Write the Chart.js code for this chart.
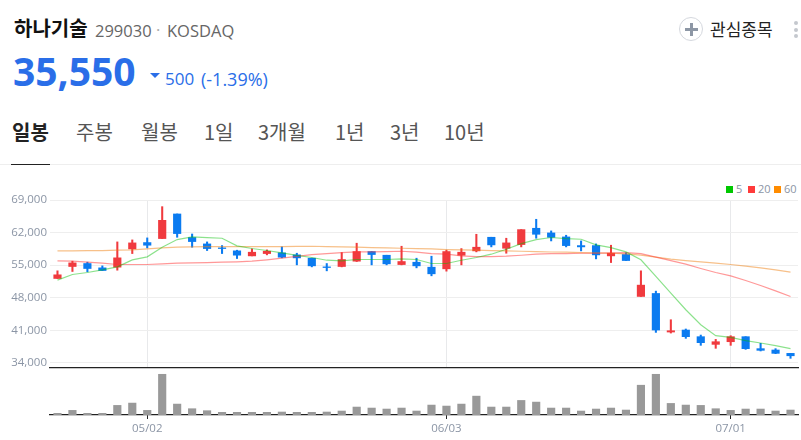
<!DOCTYPE html>
<html lang="ko">
<head>
<meta charset="utf-8">
<title>하나기술</title>
<script src="https://cdn.jsdelivr.net/npm/chart.js@4"></script>
<style>
  html, body { margin: 0; padding: 0; background: #fff; }
  body { width: 801px; height: 440px; position: relative; overflow: hidden; font-family: "Noto Sans CJK KR", "Open Sans", sans-serif; }
  .t { position: absolute; white-space: nowrap; line-height: 1; }
  canvas { position: absolute; left: 0; }
  .lg { position: absolute; top: 183px; font: 11px "Open Sans", sans-serif; color: #8b95a5; line-height: 11px; }
  .lg i { display: inline-block; width: 7px; height: 7px; margin-right: 3px; }
</style>
</head>
<body>
  <div class="t" style="left:14px;top:18px;font-size:20px;font-weight:700;color:#111">하나기술</div>
  <div class="t" style="left:95px;top:19px;font:16.5px 'Open Sans';color:#666">299030</div>
  <div class="t" style="left:156px;top:18px;font:16.5px 'Open Sans';color:#aaa">·</div>
  <div class="t" style="left:167px;top:19px;font:16.5px 'Open Sans';color:#666">KOSDAQ</div>
  <div class="t" style="left:13px;top:44px;font:700 39px 'Open Sans';color:#2a6ee8">35,550</div>
  <div class="t" style="left:150px;top:73px;width:0;height:0;border-left:5px solid transparent;border-right:5px solid transparent;border-top:5px solid #2a6ee8"></div>
  <div class="t" style="left:165px;top:67px;font:17px 'Open Sans';color:#2a6ee8">500</div>
  <div class="t" style="left:201px;top:67px;font:18px 'Open Sans';color:#2a6ee8">(-1.39%)</div>

  <div class="t" style="left:679px;top:17px;width:22px;height:22px;border:1.5px solid #d5d8de;border-radius:50%"></div>
  <div class="t" style="left:685px;top:28px;width:13px;height:3px;background:#8d97a5"></div>
  <div class="t" style="left:690px;top:23px;width:3px;height:13px;background:#8d97a5"></div>
  <div class="t" style="left:710px;top:20px;font-size:17px;color:#222">관심종목</div>
  <div class="t" style="left:794px;top:21px;width:4px;height:4px;border-radius:50%;background:#c4c8ce"></div>
  <div class="t" style="left:794px;top:28px;width:4px;height:4px;border-radius:50%;background:#c4c8ce"></div>
  <div class="t" style="left:794px;top:34px;width:4px;height:4px;border-radius:50%;background:#c4c8ce"></div>

  <div class="t" style="left:12px;top:122px;font-size:20px;font-weight:700;color:#222">일봉</div>
  <div class="t" style="left:76px;top:122px;font-size:20px;color:#555">주봉</div>
  <div class="t" style="left:141px;top:122px;font-size:20px;color:#555">월봉</div>
  <div class="t" style="left:204px;top:122px;font-size:20px;color:#555">1일</div>
  <div class="t" style="left:258px;top:122px;font-size:20px;color:#555">3개월</div>
  <div class="t" style="left:335px;top:122px;font-size:20px;color:#555">1년</div>
  <div class="t" style="left:390px;top:122px;font-size:20px;color:#555">3년</div>
  <div class="t" style="left:444px;top:122px;font-size:20px;color:#555">10년</div>
  <div class="t" style="left:0;top:164px;width:801px;height:1px;background:#eee"></div>
  <div class="t" style="left:11px;top:164px;width:39px;height:1px;background:#222"></div>

  <div class="lg" style="left:726px"><i style="background:#00c800"></i>5</div>
  <div class="lg" style="left:748px"><i style="background:#ff3b3b"></i>20</div>
  <div class="lg" style="left:774px"><i style="background:#ff8c00"></i>60</div>

  <canvas id="priceChart" width="801" height="180" style="top:190px;width:801px;height:180px"></canvas>
  <canvas id="volChart" width="801" height="71" style="top:369px;width:801px;height:71px"></canvas>

<script>
var dates = ["04/23","04/24","04/25","04/26","04/29","04/30","05/02","05/03","05/07","05/08",
  "05/09","05/10","05/13","05/14","05/16","05/17","05/20","05/21","05/22","05/23",
  "05/24","05/27","05/28","05/29","05/30","05/31","06/03","06/04","06/05","06/07",
  "06/10","06/11","06/12","06/13","06/14","06/17","06/18","06/19","06/20","06/21",
  "06/24","06/25","06/26","06/27","06/28","07/01","07/02","07/03","07/04","07/05"];
var dateTicks = ["05/02","06/03","07/01"];
var priceTicks = [34000,41000,48000,55000,62000,69000];

var opens = [52150,54720,55360,54430,54580,58500,59860,60720,66000,60930,
  59570,58720,58080,57000,57500,57650,57220,56500,54640,54720,
  55860,57930,57140,55140,55640,54570,54220,57140,58070,61000,
  58640,59430,62930,61930,61070,59210,59210,57000,57290,48290,
  48930,40650,41080,39650,38000,38570,39650,37080,36790,36070];
var closes = [52935,55500,54290,53860,56580,59790,59290,64640,61790,60075,
  58570,58580,57150,57790,58000,56720,56570,54860,54500,56220,
  57930,57290,55290,55790,54860,53150,57930,57790,58860,59360,
  59790,62640,61640,61000,59210,58930,57210,57570,56000,50720,
  41080,40930,39650,38360,38570,39650,37080,36720,36070,35550];
var highs = [53790,55860,55650,54860,60000,60430,60860,67570,66000,61700,
  60000,59220,58220,58500,58290,58930,57570,56500,55360,57720,
  59720,57930,57140,59070,56500,56930,58220,58570,61640,61000,
  60790,62640,64860,62360,61430,60210,59570,59290,57650,53790,
  49430,43290,41300,40000,39070,39860,39650,38220,37080,36070];
var lows = [52150,53650,53580,53860,53930,57500,58720,60720,61000,58860,
  58150,57500,56430,57000,57220,56580,55070,54640,53790,54640,
  55790,55070,55070,55070,54430,52720,53720,55070,57860,58930,
  57570,58930,60790,60210,58930,58070,56360,55570,56000,48290,
  40570,40430,39290,37790,37150,37790,36930,36580,36000,35000];

var ma5 = [51790,53000,53430,54000,54650,56150,56790,58860,60500,61070,
  60930,60790,59150,58580,58150,57650,57100,56650,56070,55930,
  56220,56220,56220,56360,56220,55360,55360,56070,56650,57360,
  58430,59640,60500,60950,60720,60570,59360,58790,57860,56150,
  52580,49000,45440,42220,39870,39510,38800,38300,37730,37080];
var ma20 = [55930,55860,55650,55430,55150,55150,55150,55290,55430,55500,
  55570,55650,55720,55860,56150,56500,56900,57290,57500,57720,
  57860,57860,57930,58000,57790,57500,57360,57000,56860,56860,
  56930,57140,57360,57500,57500,57570,57570,57650,57720,57500,
  56720,56000,55220,54290,53430,52720,51720,50650,49500,48290];
var ma60 = [58070,58070,58150,58150,58220,58290,58500,58720,58860,58930,
  59000,59000,59000,59000,59000,59000,59050,59070,59000,58930,
  58860,58790,58720,58640,58570,58500,58360,58290,58220,58140,
  58070,58000,57900,57830,57790,57720,57650,57570,57430,57150,
  56720,56290,56000,55720,55430,55150,54790,54430,54000,53500];

// volume in thousands of shares
var volumes = [5,14,5,5,29,36,14,123,33,19,
  13,8,8,8,8,9,8,8,9,12,
  24,21,18,21,12,30,27,33,57,24,
  24,44,39,21,21,12,18,21,15,90,
  123,35,30,29,19,14,18,18,12,15];

var upColor = "#f03a3e";
var downColor = "#0b7bf0";
var candleColors = opens.map(function (o, i) { return closes[i] >= o ? upColor : downColor; });
var bodies = opens.map(function (o, i) { return [o, closes[i]]; });
var wicks = lows.map(function (l, i) { return [l, highs[i]]; });

var axisFont = { family: "'Open Sans', sans-serif", size: 11.5 };
var axisColor = "#8b95a5";

function isDateTick(i) {
  return dateTicks.indexOf(dates[i]) !== -1;
}

new Chart("priceChart", {
  data: {
    labels: dates,
    datasets: [
      { type: "line", data: ma5, borderColor: "rgba(0,190,0,0.45)", borderWidth: 1.2, pointRadius: 0, order: 1 },
      { type: "line", data: ma20, borderColor: "rgba(255,50,50,0.5)", borderWidth: 1.2, pointRadius: 0, order: 1 },
      { type: "line", data: ma60, borderColor: "rgba(240,130,20,0.5)", borderWidth: 1.2, pointRadius: 0, order: 1 },
      { type: "bar", data: bodies, backgroundColor: candleColors, barThickness: 7.5, grouped: false, order: 2 },
      { type: "bar", data: wicks, backgroundColor: candleColors, barThickness: 1.4, grouped: false, order: 3 }
    ]
  },
  options: {
    animation: false,
    responsive: false,
    layout: { padding: { top: 10, right: 3, left: 0, bottom: 0 } },
    plugins: { legend: { display: false }, tooltip: { enabled: false } },
    scales: {
      x: {
        offset: true,
        afterFit: function (s) { s.height = 2; },
        ticks: { display: false, autoSkip: false },
        border: { color: "#222", width: 1.3 },
        grid: {
          offset: false,
          drawTicks: false,
          color: function (ctx) { return isDateTick(ctx.index) ? "#e8e9eb" : "transparent"; }
        }
      },
      y: {
        min: 32926,
        max: 69000,
        afterFit: function (s) { s.width = 50; s.paddingTop = 0; s.paddingBottom = 0; },
        afterBuildTicks: function (s) { s.ticks = priceTicks.map(function (v) { return { value: v }; }); },
        border: { display: false },
        grid: { color: "#eeeeee", drawTicks: false },
        ticks: {
          font: axisFont,
          color: axisColor,
          padding: 3,
          callback: function (v) { return v.toLocaleString("en-US"); }
        }
      }
    }
  }
});

new Chart("volChart", {
  type: "bar",
  data: {
    labels: dates,
    datasets: [{ data: volumes, backgroundColor: "#999999", barThickness: 7.5 }]
  },
  options: {
    animation: false,
    responsive: false,
    layout: { padding: { top: 0, right: 3, left: 50, bottom: 0 } },
    plugins: { legend: { display: false }, tooltip: { enabled: false } },
    scales: {
      x: {
        offset: true,
        afterFit: function (s) { s.height = 25; },
        border: { color: "#222", width: 1.3 },
        grid: {
          offset: false,
          drawOnChartArea: false,
          tickLength: 4,
          tickColor: function (ctx) { return isDateTick(ctx.index) ? "#222" : "transparent"; }
        },
        ticks: {
          font: axisFont,
          color: axisColor,
          autoSkip: false,
          maxRotation: 0,
          padding: 3,
          callback: function (v, i) { return isDateTick(i) ? dates[i] : ""; }
        }
      },
      y: { display: false, min: 0, max: 139 }
    }
  }
});
</script>
</body>
</html>
